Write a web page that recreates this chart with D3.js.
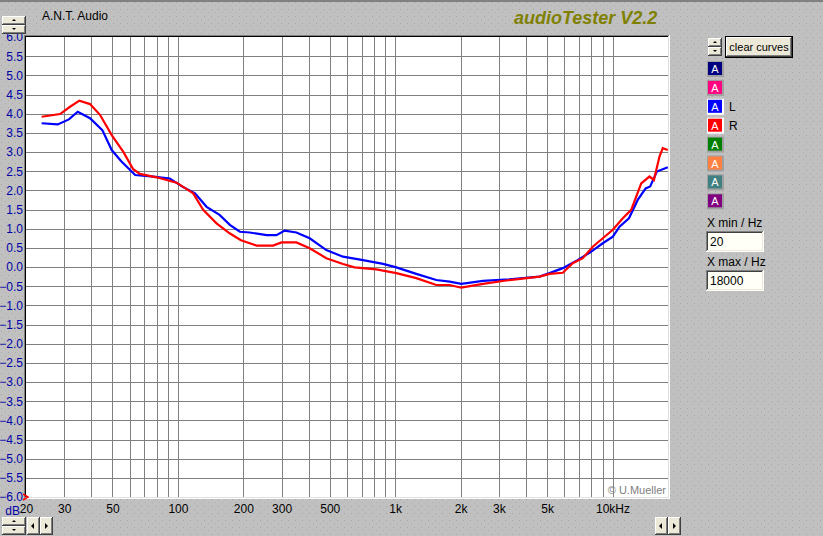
<!DOCTYPE html>
<html>
<head>
<meta charset="utf-8">
<script src="https://cdn.jsdelivr.net/npm/d3@7"></script>
<style>
  body { margin: 0; background: #c0c0c0; }
  svg { display: block; font-family: "Liberation Sans", Arial, sans-serif; }
</style>
</head>
<body>
<svg id="chart" width="823" height="536"></svg>
<script>
// curve L (blue)
var lFreq = [23.6, 28, 31.5, 34.6, 39.4, 44.9, 49.6, 55, 63.6, 77.2, 91.7, 105.3, 119.9, 135.5, 155.5, 173.4, 192.8, 214, 255.8, 284, 310, 351, 404, 482, 575, 711, 879, 1012, 1250, 1546, 1780, 2014, 2535, 3358, 4614, 5130, 5904, 6900, 7830, 9020, 10030, 10770, 11900, 13060, 14200, 14900, 16000, 17960];
var lDb   = [3.75, 3.72, 3.85, 4.05, 3.88, 3.57, 3.05, 2.75, 2.40, 2.36, 2.31, 2.09, 1.92, 1.57, 1.36, 1.10, 0.92, 0.90, 0.83, 0.83, 0.95, 0.90, 0.75, 0.44, 0.27, 0.18, 0.08, -0.01, -0.18, -0.34, -0.38, -0.44, -0.36, -0.32, -0.25, -0.16, -0.03, 0.18, 0.37, 0.62, 0.79, 1.05, 1.27, 1.75, 2.05, 2.10, 2.49, 2.60];
// curve R (red)
var rFreq = [23.6, 28.7, 31.9, 35.2, 39.4, 43.8, 49.6, 56, 62.3, 66.9, 79.8, 98.6, 117.6, 130.7, 150.6, 173, 195, 230, 274, 300, 351, 404, 482, 575, 650, 819, 1012, 1250, 1546, 1780, 2014, 2535, 3358, 4614, 5130, 5904, 6560, 7297, 8110, 9020, 10030, 11150, 12190, 13550, 14790, 15500, 16450, 17030, 17960];
var rDb   = [3.92, 3.99, 4.18, 4.34, 4.25, 3.97, 3.44, 3.01, 2.55, 2.43, 2.34, 2.20, 1.92, 1.49, 1.14, 0.88, 0.70, 0.56, 0.56, 0.64, 0.64, 0.49, 0.23, 0.08, -0.01, -0.06, -0.16, -0.29, -0.47, -0.47, -0.54, -0.44, -0.34, -0.25, -0.18, -0.15, 0.10, 0.23, 0.53, 0.75, 0.97, 1.27, 1.49, 2.18, 2.36, 2.27, 2.88, 3.10, 3.05];

var yTicks = d3.range(-6, 6.01, 0.5);
var xGrid = [30, 40, 50, 60, 70, 80, 90, 100, 200, 300, 400, 500, 600, 700, 800, 900, 1000, 2000, 3000, 4000, 5000, 6000, 7000, 8000, 9000, 10000];
var xTickValues = [20, 30, 50, 100, 200, 300, 500, 1000, 2000, 3000, 5000, 10000];
var xTickLabels = ["20", "30", "50", "100", "200", "300", "500", "1k", "2k", "3k", "5k", "10kHz"];
var swatchColors = ["#000080", "#ff0080", "#0000ff", "#ff0000", "#008000", "#ff8040", "#408080", "#800080"];
var swatchNames = ["", "", "L", "R", "", "", "", ""];

var svg = d3.select("#chart");
var pL = 26, pR = 668, pT = 37, pB = 497;

// stippled window background
var defs = svg.append("defs");
var pat = defs.append("pattern").attr("id", "dots").attr("width", 7).attr("height", 7).attr("patternUnits", "userSpaceOnUse");
pat.append("rect").attr("width", 7).attr("height", 7).attr("fill", "#c0c0c0");
pat.append("rect").attr("x", 1).attr("y", 2).attr("width", 1).attr("height", 1).attr("fill", "#a8a8a0");
pat.append("rect").attr("x", 5).attr("y", 5).attr("width", 1).attr("height", 1).attr("fill", "#b0b0a8");
svg.append("rect").attr("width", 823).attr("height", 536).attr("fill", "url(#dots)");
svg.append("rect").attr("x", 0).attr("y", 0).attr("width", 823).attr("height", 2).attr("fill", "#808080");

var x = d3.scaleLog().domain([20, 18000]).range([pL, pR]);
var y = d3.scaleLinear().domain([-6, 6]).range([pB, pT]);

// plot frame (sunken)
svg.append("rect").attr("x", pL - 2).attr("y", pT - 2).attr("width", pR - pL + 4).attr("height", pB - pT + 4).attr("fill", "#ffffff");
svg.append("rect").attr("x", pL - 2).attr("y", pT - 2).attr("width", pR - pL + 3).attr("height", pB - pT + 3).attr("fill", "#808080");
svg.append("rect").attr("x", pL - 1).attr("y", pT - 1).attr("width", pR - pL + 2).attr("height", pB - pT + 2).attr("fill", "#dfdfdf");
svg.append("rect").attr("x", pL - 1).attr("y", pT - 1).attr("width", pR - pL + 1).attr("height", pB - pT + 1).attr("fill", "#000000");
svg.append("rect").attr("x", pL).attr("y", pT).attr("width", pR - pL).attr("height", pB - pT).attr("fill", "#ffffff");

var g = svg.append("g");

// horizontal grid
g.append("g")
  .attr("transform", "translate(" + pL + ",0)")
  .call(d3.axisLeft(y).tickValues(yTicks.slice(1, -1)).tickSize(-(pR - pL)).tickFormat(""))
  .call(function (s) { s.select(".domain").remove(); s.selectAll("line").attr("stroke", "#808080").attr("shape-rendering", "crispEdges"); });

// vertical grid
g.append("g")
  .attr("transform", "translate(0," + pB + ")")
  .call(d3.axisBottom(x).tickValues(xGrid).tickSize(-(pB - pT)).tickFormat(""))
  .call(function (s) { s.select(".domain").remove(); s.selectAll("line").attr("stroke", "#808080").attr("shape-rendering", "crispEdges"); });

// y labels
svg.append("g")
  .attr("transform", "translate(" + (pL - 2) + ",0)")
  .call(d3.axisLeft(y).tickValues(yTicks).tickSize(0).tickPadding(1).tickFormat(d3.format(".1f")))
  .call(function (s) {
    s.select(".domain").remove();
    s.selectAll("text").attr("fill", "#0000a8").attr("font-size", "12px").attr("font-family", "Liberation Sans, Arial, sans-serif");
  });

// x labels
svg.append("g")
  .attr("transform", "translate(0," + (pB + 7) + ")")
  .call(d3.axisBottom(x).tickValues(xTickValues).tickSize(0).tickPadding(0)
    .tickFormat(function (d, i) { return xTickLabels[i]; }))
  .call(function (s) {
    s.select(".domain").remove();
    s.selectAll("text").attr("fill", "#000").attr("font-size", "12px").attr("font-family", "Liberation Sans, Arial, sans-serif");
  });

svg.append("text").attr("x", 20).attr("y", 515).attr("text-anchor", "end")
  .attr("fill", "#0000a8").attr("font-size", "12px").text("dB");

// curves
var line = d3.line().x(function (d) { return x(d[0]); }).y(function (d) { return y(d[1]); });
var lData = d3.zip(lFreq, lDb), rData = d3.zip(rFreq, rDb);
svg.append("path").datum(lData).attr("d", line).attr("fill", "none").attr("stroke", "#0000ff").attr("stroke-width", 2.2);
svg.append("path").datum(rData).attr("d", line).attr("fill", "none").attr("stroke", "#ff0000").attr("stroke-width", 2.2);

// corner marker
svg.append("path").attr("d", "M" + (pL - 3) + "," + (pB - 3) + "L" + (pL + 2) + "," + pB + "L" + (pL - 3) + "," + (pB + 3))
  .attr("fill", "none").attr("stroke", "#ff0000").attr("stroke-width", 1.5);

svg.append("text").attr("x", 666).attr("y", 494).attr("text-anchor", "end")
  .attr("fill", "#808080").attr("font-size", "11px").text("\u00a9 U.Mueller");

// titles
svg.append("text").attr("x", 42).attr("y", 20).attr("font-size", "12px").attr("fill", "#000").text("A.N.T. Audio");
svg.append("text").attr("x", 514).attr("y", 24).attr("font-size", "18px").attr("font-weight", "bold")
  .attr("font-style", "italic").attr("fill", "#808000").text("audioTester V2.2");

// buttons
function button(x0, y0, w, h) {
  var b = svg.append("g");
  b.append("rect").attr("x", x0).attr("y", y0).attr("width", w).attr("height", h).attr("fill", "#404040");
  b.append("rect").attr("x", x0).attr("y", y0).attr("width", w - 1).attr("height", h - 1).attr("fill", "#ffffff");
  b.append("rect").attr("x", x0 + 1).attr("y", y0 + 1).attr("width", w - 2).attr("height", h - 2).attr("fill", "#808080");
  b.append("rect").attr("x", x0 + 1).attr("y", y0 + 1).attr("width", w - 3).attr("height", h - 3).attr("fill", "#ece9d8");
  return b;
}
function arrow(cx, cy, dir) {
  var p;
  if (dir === "up") p = [[cx - 2, cy + 1], [cx + 2, cy + 1], [cx, cy - 1]];
  if (dir === "down") p = [[cx - 2, cy - 1], [cx + 2, cy - 1], [cx, cy + 1]];
  if (dir === "left") p = [[cx + 1, cy - 3], [cx + 1, cy + 3], [cx - 2, cy]];
  if (dir === "right") p = [[cx - 1, cy - 3], [cx - 1, cy + 3], [cx + 2, cy]];
  svg.append("path").attr("d", "M" + p.join("L") + "Z").attr("fill", "#000");
}
function spinner(x0, y0, w) {
  button(x0, y0, w, 9); arrow(x0 + w / 2, y0 + 4, "up");
  button(x0, y0 + 9, w, 9); arrow(x0 + w / 2, y0 + 13, "down");
}
spinner(2, 16, 24);
spinner(2, 517, 24);
button(27, 517, 13, 18); arrow(33, 526, "left");
button(40, 517, 13, 18); arrow(46, 526, "right");
button(655, 517, 13, 18); arrow(661, 526, "left");
button(668, 517, 13, 18); arrow(674, 526, "right");
spinner(708, 38, 14);

svg.append("rect").attr("x", 725).attr("y", 36).attr("width", 68).attr("height", 22).attr("fill", "#000");
button(726, 37, 66, 20);
svg.append("text").attr("x", 759).attr("y", 51).attr("text-anchor", "middle").attr("font-size", "11px").attr("fill", "#000").text("clear curves");

// colour swatches
var sw = svg.append("g").selectAll("g").data(swatchColors).enter().append("g")
  .attr("transform", function (d, i) { return "translate(707," + (61 + i * 18.9) + ")"; });
sw.append("rect").attr("width", 17).attr("height", 16)
  .attr("fill", function (d, i) { return swatchNames[i] ? "#ffffff" : "#a0a0a0"; });
sw.append("rect").attr("x", 1).attr("y", 1).attr("width", 14).attr("height", 13)
  .attr("fill", function (d) { return d; });
sw.append("text").attr("x", 8).attr("y", 12).attr("text-anchor", "middle").attr("font-size", "11px").attr("fill", "#fff").text("A");
sw.append("text").attr("x", 22).attr("y", 12).attr("font-size", "12px").attr("fill", "#000").text(function (d, i) { return swatchNames[i]; });

// x range inputs
function field(label, value, y0) {
  svg.append("text").attr("x", 707).attr("y", y0).attr("font-size", "12px").attr("fill", "#000").text(label);
  svg.append("rect").attr("x", 706).attr("y", y0 + 4).attr("width", 58).attr("height", 21).attr("fill", "#ffffff");
  svg.append("rect").attr("x", 706).attr("y", y0 + 4).attr("width", 57).attr("height", 20).attr("fill", "#808080");
  svg.append("rect").attr("x", 707).attr("y", y0 + 5).attr("width", 56).attr("height", 19).attr("fill", "#ece9d8");
  svg.append("rect").attr("x", 707).attr("y", y0 + 5).attr("width", 55).attr("height", 18).attr("fill", "#404040");
  svg.append("rect").attr("x", 708).attr("y", y0 + 6).attr("width", 54).attr("height", 17).attr("fill", "#fffff8");
  svg.append("text").attr("x", 710).attr("y", y0 + 19).attr("font-size", "12px").attr("fill", "#000").text(value);
}
field("X min / Hz", "20", 227);
field("X max / Hz", "18000", 266);
</script>
</body>
</html>
